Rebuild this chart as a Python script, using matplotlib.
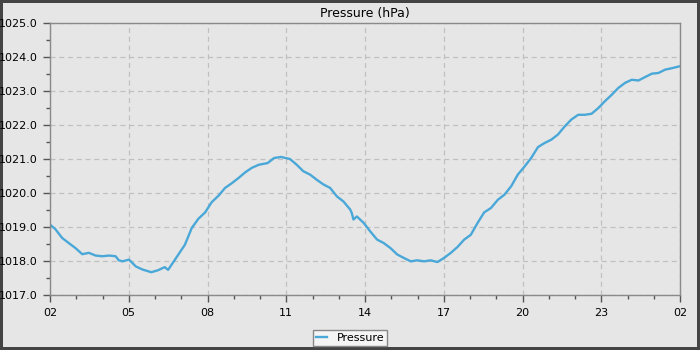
import matplotlib
matplotlib.use('Agg')
import matplotlib.pyplot as plt
from matplotlib.ticker import MultipleLocator

# hours since 02:00
hours = [0.0, 0.2, 0.46, 0.71, 0.97, 1.23, 1.48, 1.74, 1.99, 2.25, 2.5, 2.62, 2.76,
         3.01, 3.27, 3.52, 3.86, 4.12, 4.37, 4.5, 4.63, 4.89, 5.14, 5.4, 5.65, 5.91,
         6.16, 6.42, 6.67, 6.93, 7.18, 7.44, 7.69, 7.95, 8.29, 8.54, 8.8, 9.14, 9.4,
         9.65, 9.91, 10.16, 10.42, 10.67, 10.93, 11.18, 11.44, 11.5, 11.56, 11.69,
         11.95, 12.2, 12.46, 12.71, 12.97, 13.23, 13.48, 13.74, 13.99, 14.25, 14.5,
         14.76, 15.01, 15.27, 15.52, 15.78, 16.03, 16.29, 16.54, 16.8, 17.06, 17.31,
         17.57, 17.82, 18.08, 18.33, 18.59, 18.84, 19.1, 19.35, 19.61, 19.86, 20.12,
         20.37, 20.63, 20.89, 21.14, 21.4, 21.65, 21.91, 22.16, 22.42, 22.67, 22.93,
         23.18, 23.44, 23.69, 24.0]
pressure = [1019.07, 1018.94, 1018.68, 1018.53, 1018.38, 1018.2, 1018.24, 1018.16,
            1018.14, 1018.16, 1018.14, 1018.02, 1017.99, 1018.04, 1017.84, 1017.75,
            1017.67, 1017.73, 1017.82, 1017.74, 1017.89, 1018.19, 1018.48, 1018.97,
            1019.24, 1019.43, 1019.73, 1019.92, 1020.15, 1020.29, 1020.44, 1020.61,
            1020.74, 1020.83, 1020.88, 1021.03, 1021.06, 1021.0, 1020.83, 1020.64,
            1020.54, 1020.39, 1020.25, 1020.15, 1019.9, 1019.75, 1019.51, 1019.4,
            1019.22, 1019.31, 1019.12, 1018.87, 1018.63, 1018.53, 1018.38, 1018.19,
            1018.09, 1017.99, 1018.02, 1017.99, 1018.02, 1017.97, 1018.09, 1018.24,
            1018.41, 1018.63, 1018.77, 1019.12, 1019.43, 1019.56, 1019.8, 1019.95,
            1020.2, 1020.54, 1020.78, 1021.03, 1021.35, 1021.47, 1021.57, 1021.72,
            1021.96, 1022.16, 1022.3, 1022.3, 1022.33, 1022.5, 1022.7, 1022.89,
            1023.09, 1023.24, 1023.33, 1023.31, 1023.41, 1023.51, 1023.53, 1023.63,
            1023.67, 1023.73]
tick_labels = ['02', '05', '08', '11', '14', '17', '20', '23', '02']

bg = '#e6e6e6'
fig = plt.figure(figsize=(7, 3.5), dpi=100, facecolor=bg,
                 edgecolor='#444444', linewidth=3)
ax = fig.add_axes([50/700, 1-295/350, 630/700, 272/350])
ax.set_facecolor(bg)

ax.plot(hours, pressure, color='#4aa8d8', lw=1.7, label='Pressure')

ax.set_xlim(0, 24)
ax.set_ylim(1017, 1025)
ax.set_xticks(range(0, 25, 3))
ax.set_xticklabels(tick_labels)
ax.xaxis.set_minor_locator(MultipleLocator(1))
ax.yaxis.set_major_locator(MultipleLocator(1))
ax.yaxis.set_minor_locator(MultipleLocator(0.5))
ax.yaxis.set_major_formatter(plt.FormatStrFormatter('%.1f'))

ax.tick_params(which='major', length=5, width=1, color='#555555',
               labelsize=8, pad=4)
ax.tick_params(which='minor', length=3, width=1, color='#555555')
for s in ax.spines.values():
    s.set_color('#8a8a8a')
    s.set_linewidth(1)

ax.grid(True, which='major', ls=(0, (4, 3)), color='#c0c0c0', lw=0.9)
ax.set_axisbelow(True)

ax.set_title('Pressure (hPa)', fontsize=9, pad=4)

leg = fig.legend(loc='center', bbox_to_anchor=(0.5, 1-338/350), fontsize=8,
                 frameon=True, fancybox=False, handlelength=1.0,
                 borderpad=0.25, handletextpad=0.9, borderaxespad=0)
leg.get_frame().set_facecolor('#f4f4f4')
leg.get_frame().set_edgecolor('#888888')
leg.get_frame().set_alpha(1)
leg.get_frame().set_linewidth(1)

fig.savefig('out.png', dpi=100, facecolor=bg)
